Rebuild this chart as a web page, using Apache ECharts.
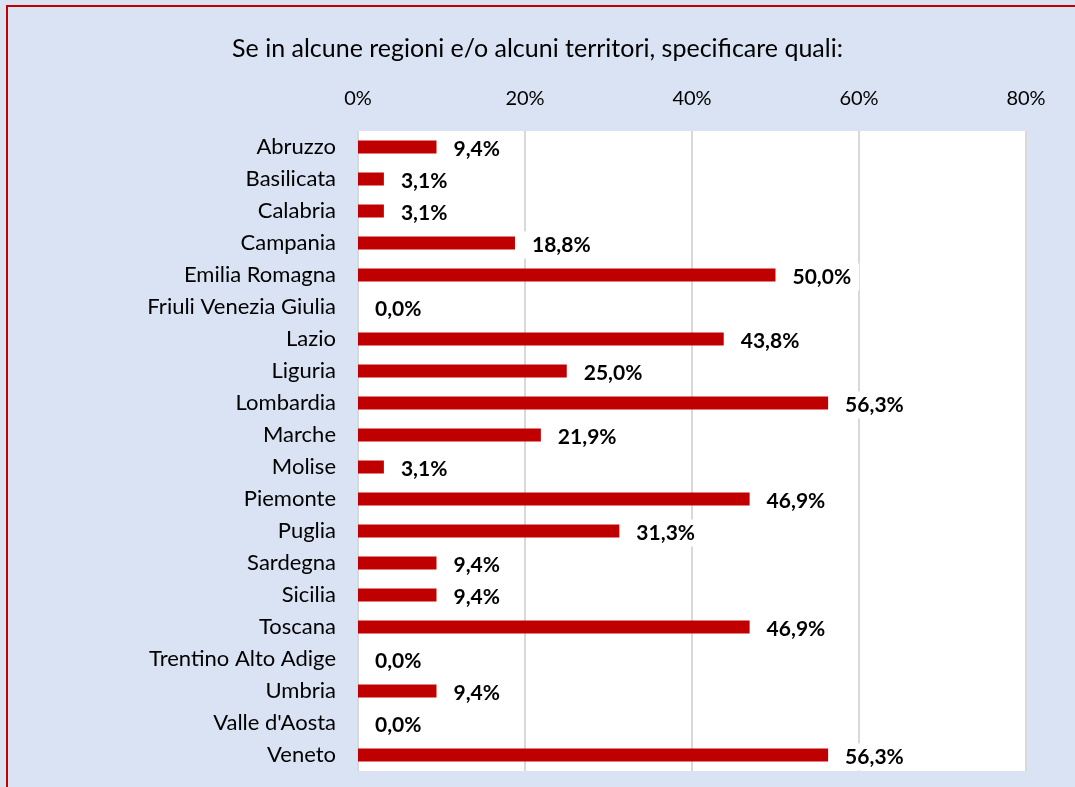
<!DOCTYPE html>
<html>
<head>
<meta charset="utf-8">
<script src="https://cdn.jsdelivr.net/npm/echarts@6/dist/echarts.min.js"></script>
<style>
  html, body { margin: 0; padding: 0; background: #dae3f3; }
  #chart { width: 1075px; height: 787px; }
</style>
</head>
<body>
<div id="chart"></div>
<script>
// regioni (dall'alto in basso)
const regioni = ['Abruzzo', 'Basilicata', 'Calabria', 'Campania', 'Emilia Romagna',
  'Friuli Venezia Giulia', 'Lazio', 'Liguria', 'Lombardia', 'Marche', 'Molise',
  'Piemonte', 'Puglia', 'Sardegna', 'Sicilia', 'Toscana', 'Trentino Alto Adige',
  'Umbria', "Valle d'Aosta", 'Veneto']
// percentuali
const valori = [9.4, 3.1, 3.1, 18.8, 50.0, 0.0, 43.8, 25.0, 56.3, 21.9, 3.1,
  46.9, 31.3, 9.4, 9.4, 46.9, 0.0, 9.4, 0.0, 56.3]
const titolo = 'Se in alcune regioni e/o alcuni territori, specificare quali:'

const chart = echarts.init(document.getElementById('chart'))
const font = 'Lato, "Open Sans", sans-serif'

const option = {
  backgroundColor: '#dae3f3',
  animation: false,
  graphic: [{
    type: 'rect',
    shape: { x: 7, y: 6, width: 1200, height: 900 },
    style: { fill: 'none', stroke: '#c00000', lineWidth: 2 },
    z: 100
  }],
  title: {
    text: titolo,
    left: 'center',
    top: 31,
    textStyle: { fontFamily: font, fontSize: 25, fontWeight: 'normal', color: '#000' }
  },
  grid: {
    left: 358,
    right: 49,
    top: 131,
    bottom: 16,
    backgroundColor: '#fff',
    borderWidth: 0,
    show: true
  },
  xAxis: {
    type: 'value',
    position: 'top',
    min: 0,
    max: 80,
    interval: 20,
    axisLine: { show: false },
    axisTick: { show: false },
    axisLabel: {
      formatter: '{value}%',
      fontFamily: font,
      fontSize: 20,
      color: '#000',
      margin: 22
    },
    splitLine: { lineStyle: { color: '#d9d9d9', width: 2 } }
  },
  yAxis: {
    type: 'category',
    inverse: true,
    data: regioni,
    axisLine: { show: false },
    axisTick: { show: false },
    axisLabel: { fontFamily: font, fontSize: 22, color: '#000', margin: 22 }
  },
  series: [{
    type: 'bar',
    data: valori,
    barWidth: 13,
    itemStyle: { color: '#c00000' },
    label: {
      show: true,
      position: 'right',
      distance: 9,
      offset: [0, 2],
      fontFamily: font,
      fontSize: 21,
      fontWeight: 'bold',
      color: '#000',
      backgroundColor: '#fff',
      padding: [3, 8],
      formatter: p => p.value.toFixed(1).replace('.', ',') + '%'
    }
  }]
}

chart.setOption(option)
window.addEventListener('resize', () => chart.resize())
</script>
</body>
</html>
